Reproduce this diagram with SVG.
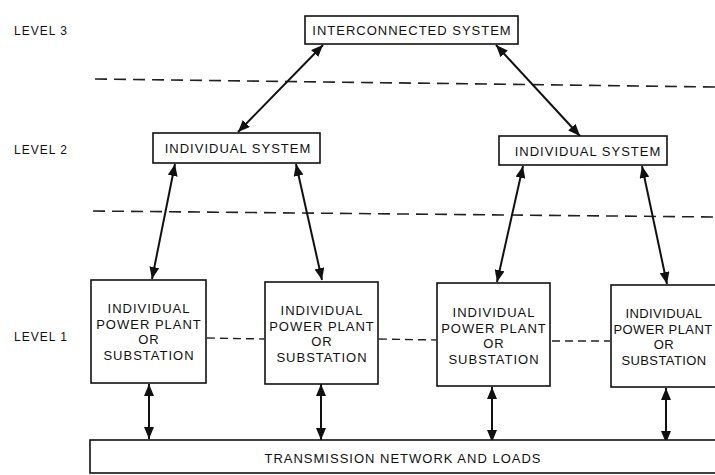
<svg xmlns="http://www.w3.org/2000/svg" width="715" height="475" viewBox="0 0 715 475">
<defs>
<marker id="ah" viewBox="0 0 12 10" refX="12" refY="5" markerWidth="12" markerHeight="10" markerUnits="userSpaceOnUse" orient="auto-start-reverse">
<path d="M0,0 L12,5 L0,10 Z" fill="#111"/>
</marker>
<style>
.box{fill:#fff;stroke:#111;stroke-width:1.6}
.t{font-family:"Liberation Sans",Arial,sans-serif;font-size:13px;letter-spacing:1px;fill:#111;text-anchor:middle}
.t4{letter-spacing:0.4px}
.lv{font-family:"Liberation Sans",Arial,sans-serif;font-size:12px;letter-spacing:1px;fill:#111}
.arr{stroke:#111;stroke-width:2;fill:none;marker-start:url(#ah);marker-end:url(#ah)}
.dash{stroke:#222;stroke-width:1.6;stroke-dasharray:12 7;fill:none}
.dash2{stroke:#222;stroke-width:1.4;stroke-dasharray:8 5;fill:none}
</style>
</defs>
<rect width="715" height="475" fill="#fff"/>
<g id="labels">
<text class="lv" x="14" y="35">LEVEL 3</text>
<text class="lv" x="14" y="154">LEVEL 2</text>
<text class="lv" x="14" y="341">LEVEL 1</text>
</g>
<g id="separators">
<path class="dash" d="M95,79 L715,87"/>
<path class="dash" d="M93,211 L715,217"/>
</g>
<g id="connectors">
<path class="arr" d="M238,132 L323,45"/>
<path class="arr" d="M580,136 L496,45"/>
<path class="arr" d="M175,164 L152,279"/>
<path class="arr" d="M296,164 L322,280"/>
<path class="arr" d="M523,166 L497,282"/>
<path class="arr" d="M642,166 L667,284"/>
<path class="arr" d="M149,384 L149,439"/>
<path class="arr" d="M321,384 L321,440"/>
<path class="arr" d="M492,387 L492,442"/>
<path class="arr" d="M666,388 L666,443"/>
<path class="dash2" d="M207,338 L264,339"/>
<path class="dash2" d="M379,339 L436,340"/>
<path class="dash2" d="M552,341 L610,341"/>
</g>
<g id="interconnected">
<rect class="box" x="305" y="16" width="213" height="28"/>
<text class="t" x="412" y="35">INTERCONNECTED SYSTEM</text>
</g>
<g id="system-left">
<rect class="box" x="153" y="133" width="167" height="30"/>
<text class="t" x="238" y="153">INDIVIDUAL SYSTEM</text>
</g>
<g id="system-right">
<rect class="box" x="499" y="136" width="168" height="29"/>
<text class="t" x="588" y="156">INDIVIDUAL SYSTEM</text>
</g>
<g id="plant-1">
<rect class="box" x="91" y="280" width="115" height="103"/>
<text class="t" x="149" y="313">INDIVIDUAL</text>
<text class="t" x="149" y="329">POWER PLANT</text>
<text class="t" x="149" y="344">OR</text>
<text class="t" x="149" y="360">SUBSTATION</text>
</g>
<g id="plant-2">
<rect class="box" x="265" y="282" width="113" height="102"/>
<text class="t" x="322" y="315">INDIVIDUAL</text>
<text class="t" x="322" y="331">POWER PLANT</text>
<text class="t" x="322" y="346">OR</text>
<text class="t" x="322" y="362">SUBSTATION</text>
</g>
<g id="plant-3">
<rect class="box" x="437" y="283" width="113" height="103"/>
<text class="t" x="494" y="317">INDIVIDUAL</text>
<text class="t" x="494" y="333">POWER PLANT</text>
<text class="t" x="494" y="348">OR</text>
<text class="t" x="494" y="364">SUBSTATION</text>
</g>
<g id="plant-4">
<rect class="box" x="611" y="285" width="115" height="102"/>
<text class="t t4" x="664" y="318">INDIVIDUAL</text>
<text class="t t4" x="663" y="334">POWER PLANT</text>
<text class="t t4" x="664" y="349">OR</text>
<text class="t t4" x="664" y="365">SUBSTATION</text>
</g>
<g id="transmission">
<rect class="box" x="90" y="440" width="640" height="33"/>
<text class="t" x="403" y="463">TRANSMISSION NETWORK AND LOADS</text>
</g>
</svg>
